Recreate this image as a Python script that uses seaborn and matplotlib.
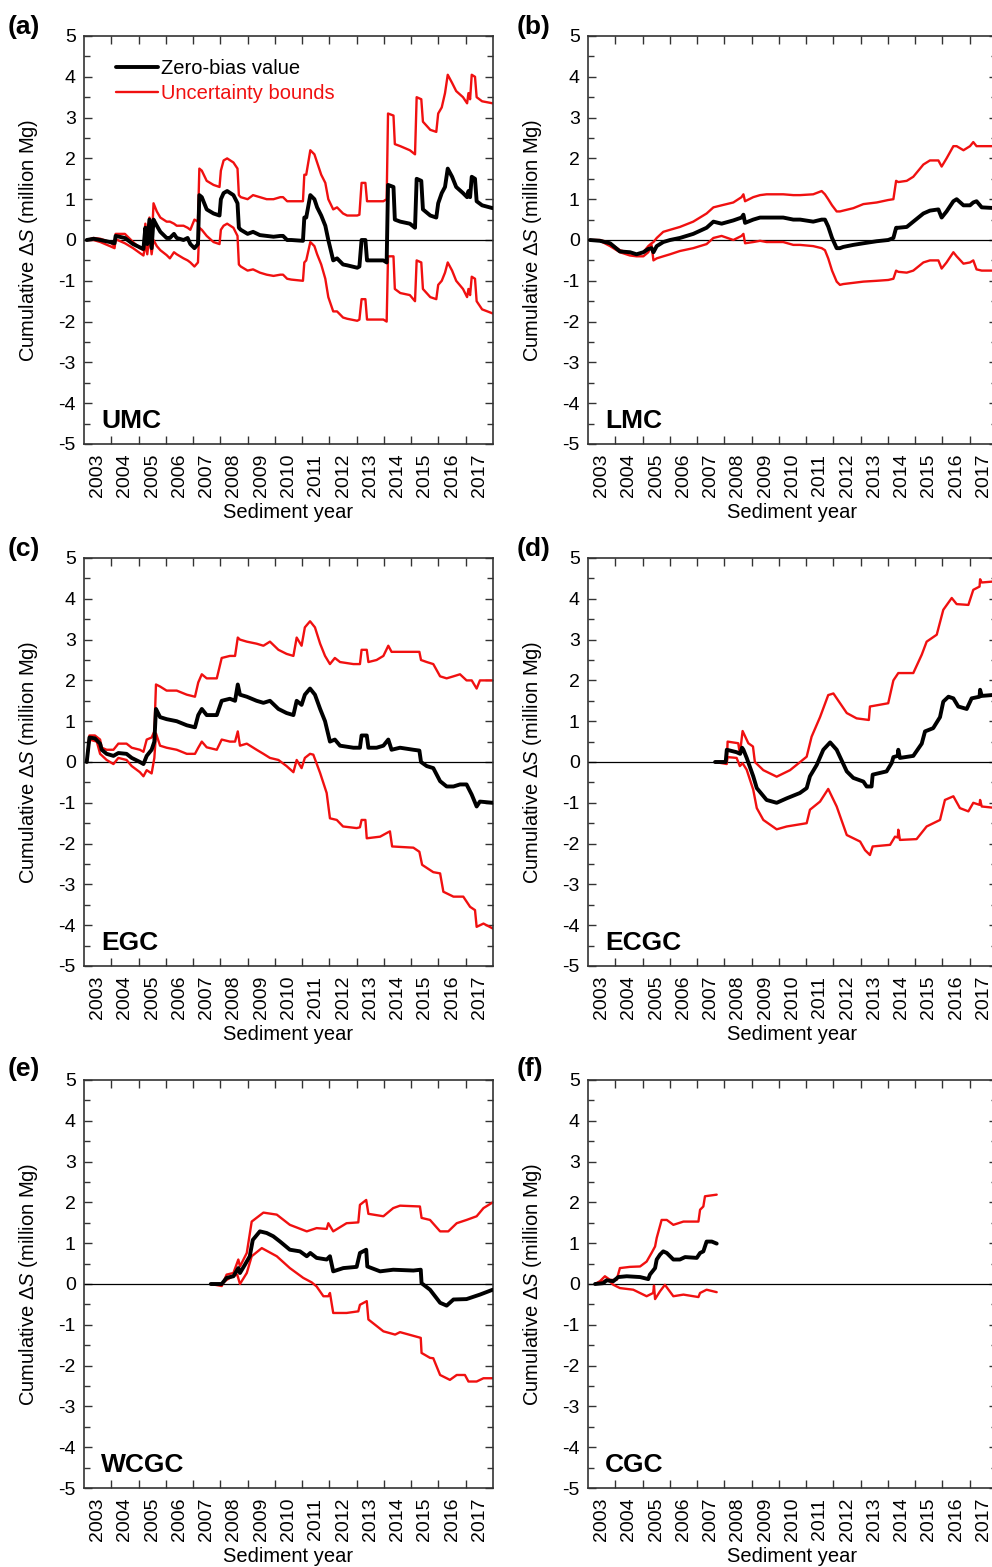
import matplotlib
matplotlib.use("Agg")
import matplotlib.pyplot as plt
from matplotlib.lines import Line2D
from matplotlib.ticker import FixedLocator, MultipleLocator
import seaborn as sns

# ---------------------------------------------------------------- data
YEARS = list(range(2003, 2018))

# UMC
UMC_YEAR = [2003.10, 2003.35, 2003.60, 2003.95, 2004.12, 2004.16, 2004.50, 2004.80, 2005.05, 2005.18,
            2005.25, 2005.32, 2005.40, 2005.48, 2005.55, 2005.67, 2005.80, 2006.03, 2006.15, 2006.30,
            2006.40, 2006.65, 2006.80, 2006.90, 2007.05, 2007.18, 2007.23, 2007.32, 2007.50, 2007.75,
            2007.97, 2008.02, 2008.12, 2008.25, 2008.48, 2008.63, 2008.68, 2008.75, 2009.00, 2009.20,
            2009.45, 2009.70, 2009.95, 2010.20, 2010.30, 2010.45, 2010.60, 2011.03, 2011.08, 2011.15,
            2011.30, 2011.45, 2011.55, 2011.70, 2011.85, 2011.96, 2012.14, 2012.28, 2012.50, 2012.65,
            2013.02, 2013.10, 2013.18, 2013.32, 2013.38, 2013.45, 2013.98, 2014.10, 2014.15, 2014.35,
            2014.40, 2014.60, 2014.95, 2015.14, 2015.20, 2015.37, 2015.43, 2015.70, 2015.92, 2015.99,
            2016.12, 2016.24, 2016.34, 2016.50, 2016.65, 2016.90, 2017.05, 2017.10, 2017.16, 2017.22,
            2017.34, 2017.40, 2017.60, 2017.99]
UMC_ZERO = [0, 0.03, 0.0, -0.05, -0.08, 0.1, 0.05, -0.1, -0.18, -0.22,
            0.3, -0.1, 0.5, -0.2, 0.5, 0.35, 0.2, 0.05, 0.05, 0.15,
            0.05, 0.0, 0.05, -0.1, -0.2, -0.1, 1.1, 1.05, 0.75, 0.65,
            0.6, 1.0, 1.15, 1.2, 1.1, 0.9, 0.3, 0.25, 0.15, 0.2,
            0.12, 0.1, 0.08, 0.1, 0.1, 0.0, 0.0, -0.02, 0.55, 0.55,
            1.1, 1.0, 0.8, 0.6, 0.35, 0.0, -0.5, -0.45, -0.6, -0.62,
            -0.68, -0.65, 0.0, 0.0, -0.5, -0.5, -0.5, -0.55, 1.35, 1.3,
            0.5, 0.45, 0.4, 0.3, 1.5, 1.45, 0.75, 0.6, 0.55, 0.9,
            1.15, 1.3, 1.75, 1.55, 1.3, 1.15, 1.05, 1.2, 1.05, 1.55,
            1.5, 0.95, 0.85, 0.78]
UMC_UPPER = [0, 0.05, 0.03, -0.05, -0.15, 0.15, 0.15, -0.05, -0.2, -0.25,
             0.4, 0.0, 0.55, -0.15, 0.9, 0.7, 0.55, 0.45, 0.45, 0.4,
             0.35, 0.35, 0.3, 0.25, 0.5, 0.45, 1.75, 1.7, 1.45, 1.35,
             1.3, 1.7, 1.95, 2.0, 1.9, 1.75, 1.1, 1.05, 1.0, 1.1,
             1.05, 1.0, 1.0, 1.05, 1.05, 0.95, 0.95, 0.95, 1.6, 1.6,
             2.2, 2.1, 1.9, 1.6, 1.4, 1.0, 0.75, 0.8, 0.65, 0.6,
             0.6, 0.62, 1.4, 1.4, 0.95, 0.95, 0.95, 1.0, 3.1, 3.05,
             2.35, 2.3, 2.2, 2.1, 3.5, 3.45, 2.9, 2.7, 2.65, 3.1,
             3.25, 3.6, 4.05, 3.85, 3.65, 3.5, 3.35, 3.6, 3.45, 4.05,
             4.0, 3.5, 3.4, 3.35]
UMC_LOWER = [0, 0.0, -0.05, -0.15, -0.2, 0.02, -0.08, -0.2, -0.32, -0.38,
             -0.1, -0.35, 0.1, -0.35, 0.0, -0.15, -0.25, -0.37, -0.45, -0.3,
             -0.35, -0.45, -0.5, -0.55, -0.65, -0.55, 0.3, 0.25, 0.1, -0.05,
             -0.1, 0.25, 0.35, 0.4, 0.3, 0.1, -0.6, -0.65, -0.75, -0.72,
             -0.8, -0.85, -0.88, -0.85, -0.85, -0.95, -0.97, -1.0, -0.55, -0.5,
             -0.05, -0.15, -0.35, -0.6, -0.95, -1.4, -1.75, -1.75, -1.9, -1.93,
             -1.98, -1.95, -1.45, -1.45, -1.95, -1.95, -1.95, -2.0, -0.4, -0.4,
             -1.2, -1.3, -1.35, -1.5, -0.5, -0.55, -1.2, -1.4, -1.45, -1.1,
             -1.0, -0.8, -0.55, -0.75, -1.0, -1.2, -1.4, -1.2, -1.35, -0.9,
             -0.95, -1.5, -1.7, -1.8]

# LMC
LMC_YEAR = [2003.07, 2003.44, 2003.81, 2004.17, 2004.54, 2004.78, 2005.03, 2005.21, 2005.33, 2005.40,
            2005.52, 2005.76, 2006.01, 2006.37, 2006.86, 2007.35, 2007.60, 2007.90, 2008.33, 2008.63,
            2008.70, 2008.76, 2009.06, 2009.31, 2009.55, 2010.16, 2010.53, 2010.78, 2011.26, 2011.57,
            2011.69, 2011.81, 2011.95, 2012.12, 2012.24, 2012.36, 2012.73, 2013.10, 2013.59, 2014.01,
            2014.20, 2014.30, 2014.38, 2014.69, 2014.93, 2015.30, 2015.54, 2015.85, 2015.97, 2016.15,
            2016.40, 2016.52, 2016.77, 2017.01, 2017.13, 2017.25, 2017.44, 2017.99]
LMC_ZERO = [0, -0.02, -0.08, -0.28, -0.3, -0.35, -0.3, -0.22, -0.2, -0.3,
            -0.15, -0.05, 0.0, 0.05, 0.15, 0.3, 0.45, 0.4, 0.48, 0.55,
            0.62, 0.42, 0.5, 0.55, 0.55, 0.55, 0.5, 0.5, 0.45, 0.5,
            0.5, 0.33, 0.05, -0.2, -0.2, -0.17, -0.12, -0.08, -0.03, 0.0,
            0.05, 0.3, 0.3, 0.32, 0.45, 0.65, 0.72, 0.75, 0.55, 0.7,
            0.95, 1.0, 0.85, 0.85, 0.92, 0.95, 0.8, 0.78]
LMC_UPPER = [0, 0.0, -0.08, -0.25, -0.32, -0.35, -0.3, -0.15, -0.08, -0.05,
             0.05, 0.2, 0.25, 0.32, 0.45, 0.65, 0.8, 0.85, 0.92, 1.05,
             1.12, 0.95, 1.05, 1.1, 1.12, 1.12, 1.1, 1.1, 1.12, 1.2,
             1.12, 1.0, 0.85, 0.7, 0.7, 0.72, 0.78, 0.88, 0.92, 0.98,
             1.0, 1.45, 1.42, 1.45, 1.55, 1.85, 1.95, 1.95, 1.8, 2.0,
             2.3, 2.3, 2.2, 2.3, 2.4, 2.3, 2.3, 2.3]
LMC_LOWER = [0, -0.02, -0.15, -0.3, -0.38, -0.4, -0.4, -0.3, -0.12, -0.5,
             -0.45, -0.4, -0.35, -0.27, -0.2, -0.1, 0.05, 0.1, 0.0, 0.1,
             0.15, -0.08, -0.05, -0.02, -0.05, -0.05, -0.12, -0.12, -0.15, -0.2,
             -0.25, -0.45, -0.75, -1.02, -1.1, -1.08, -1.05, -1.02, -1.0, -0.98,
             -0.95, -0.75, -0.78, -0.8, -0.75, -0.55, -0.5, -0.5, -0.7, -0.55,
             -0.3, -0.4, -0.58, -0.55, -0.5, -0.72, -0.75, -0.75]

# EGC
EGC_YEAR = [2003.10, 2003.20, 2003.40, 2003.59, 2003.65, 2003.83, 2004.08, 2004.26, 2004.56, 2004.75,
            2005.05, 2005.18, 2005.30, 2005.48, 2005.58, 2005.64, 2005.79, 2006.03, 2006.40, 2006.77,
            2007.07, 2007.19, 2007.32, 2007.50, 2007.87, 2008.05, 2008.35, 2008.54, 2008.64, 2008.72,
            2008.97, 2009.33, 2009.58, 2009.82, 2010.13, 2010.43, 2010.68, 2010.80, 2010.98, 2011.10,
            2011.29, 2011.47, 2011.66, 2011.84, 2012.02, 2012.20, 2012.39, 2012.88, 2013.12, 2013.18,
            2013.37, 2013.43, 2013.73, 2013.98, 2014.16, 2014.28, 2014.59, 2015.08, 2015.30, 2015.36,
            2015.57, 2015.81, 2016.06, 2016.30, 2016.55, 2016.79, 2017.03, 2017.22, 2017.40, 2017.52,
            2017.99]
EGC_ZERO = [0, 0.6, 0.58, 0.45, 0.3, 0.2, 0.15, 0.22, 0.2, 0.1,
            0.0, -0.05, 0.15, 0.3, 0.5, 1.3, 1.1, 1.05, 1.0, 0.9,
            0.85, 1.15, 1.3, 1.15, 1.15, 1.5, 1.55, 1.5, 1.9, 1.65,
            1.6, 1.5, 1.45, 1.5, 1.3, 1.2, 1.15, 1.5, 1.4, 1.65,
            1.8, 1.65, 1.3, 1.0, 0.5, 0.55, 0.4, 0.35, 0.35, 0.65,
            0.65, 0.35, 0.35, 0.4, 0.55, 0.3, 0.35, 0.3, 0.28, 0.0,
            -0.1, -0.15, -0.47, -0.6, -0.6, -0.55, -0.55, -0.8, -1.09, -0.97,
            -1.0]
EGC_UPPER = [0, 0.65, 0.65, 0.55, 0.35, 0.3, 0.3, 0.45, 0.45, 0.35,
             0.3, 0.25, 0.55, 0.6, 0.75, 1.9, 1.85, 1.75, 1.75, 1.65,
             1.6, 1.95, 2.15, 2.05, 2.05, 2.55, 2.6, 2.6, 3.05, 3.0,
             2.95, 2.9, 2.85, 2.95, 2.75, 2.65, 2.6, 3.05, 2.85, 3.3,
             3.45, 3.3, 2.9, 2.6, 2.4, 2.55, 2.45, 2.4, 2.4, 2.75,
             2.75, 2.45, 2.5, 2.6, 2.85, 2.7, 2.7, 2.7, 2.7, 2.5,
             2.45, 2.4, 2.1, 2.05, 2.1, 2.15, 2.0, 2.0, 1.8, 2.0,
             2.0]
EGC_LOWER_YEAR = [2003.10, 2003.20, 2003.47, 2003.59, 2003.83, 2004.08, 2004.26, 2004.56, 2004.75, 2005.05,
                  2005.18, 2005.30, 2005.48, 2005.58, 2005.64, 2005.79, 2006.03, 2006.40, 2006.77, 2007.07,
                  2007.19, 2007.32, 2007.50, 2007.87, 2008.05, 2008.35, 2008.54, 2008.64, 2008.72, 2008.97,
                  2009.33, 2009.58, 2009.82, 2010.13, 2010.43, 2010.68, 2010.80, 2010.98, 2011.10, 2011.29,
                  2011.41, 2011.66, 2011.90, 2012.02, 2012.27, 2012.50, 2013.00, 2013.12, 2013.18, 2013.32,
                  2013.37, 2013.86, 2014.16, 2014.22, 2014.30, 2015.08, 2015.30, 2015.40, 2015.81, 2016.06,
                  2016.18, 2016.55, 2016.91, 2017.16, 2017.34, 2017.40, 2017.65, 2017.99]
EGC_LOWER = [0, 0.55, 0.5, 0.2, 0.05, -0.05, 0.1, 0.05, -0.1, -0.25,
             -0.35, -0.2, -0.28, 0.1, 0.7, 0.4, 0.35, 0.3, 0.2, 0.2,
             0.35, 0.5, 0.36, 0.3, 0.55, 0.5, 0.5, 0.75, 0.4, 0.45,
             0.3, 0.2, 0.1, 0.05, -0.1, -0.25, 0.05, -0.15, 0.1, 0.2,
             0.18, -0.27, -0.76, -1.38, -1.42, -1.58, -1.62, -1.6, -1.42, -1.42,
             -1.87, -1.83, -1.72, -1.7, -2.07, -2.1, -2.2, -2.52, -2.7, -2.73,
             -3.18, -3.3, -3.3, -3.55, -3.63, -4.04, -3.96, -4.08]

# ECGC
ECGC_ZERO_YEAR = [2007.66, 2008.05, 2008.09, 2008.45, 2008.58, 2008.65, 2008.70, 2008.82, 2009.06, 2009.19,
                  2009.55, 2009.92, 2010.29, 2010.77, 2011.02, 2011.14, 2011.39, 2011.63, 2011.88, 2012.12,
                  2012.49, 2012.73, 2013.10, 2013.22, 2013.40, 2013.44, 2013.95, 2014.14, 2014.20, 2014.36,
                  2014.38, 2014.44, 2014.93, 2015.24, 2015.36, 2015.66, 2015.91, 2016.03, 2016.22, 2016.40,
                  2016.58, 2016.89, 2017.07, 2017.36, 2017.38, 2017.44, 2017.99]
ECGC_ZERO = [0, 0.0, 0.3, 0.24, 0.2, 0.35, 0.3, 0.1, -0.35, -0.64,
             -0.93, -1.0, -0.89, -0.76, -0.64, -0.35, -0.07, 0.3, 0.48, 0.3,
             -0.23, -0.39, -0.48, -0.6, -0.6, -0.31, -0.23, -0.02, 0.12, 0.15,
             0.3, 0.1, 0.15, 0.45, 0.75, 0.83, 1.1, 1.48, 1.6, 1.56,
             1.36, 1.3, 1.56, 1.6, 1.77, 1.62, 1.65]
ECGC_UPPER_YEAR = [2007.66, 2008.09, 2008.12, 2008.51, 2008.57, 2008.67, 2008.88, 2009.05, 2009.12, 2009.43,
                   2009.92, 2010.41, 2011.02, 2011.20, 2011.51, 2011.81, 2012.00, 2012.49, 2012.85, 2013.30,
                   2013.34, 2014.01, 2014.20, 2014.38, 2014.93, 2015.24, 2015.42, 2015.79, 2016.03, 2016.34,
                   2016.52, 2016.95, 2017.13, 2017.36, 2017.38, 2017.44, 2017.99]
ECGC_UPPER = [0, -0.05, 0.5, 0.46, 0.2, 0.76, 0.46, 0.38, 0.0, -0.2,
              -0.36, -0.2, 0.13, 0.62, 1.1, 1.64, 1.68, 1.2, 1.07, 1.03,
              1.36, 1.44, 2.0, 2.18, 2.18, 2.63, 2.95, 3.12, 3.73, 4.02,
              3.87, 3.85, 4.22, 4.3, 4.48, 4.4, 4.43]
ECGC_LOWER_YEAR = [2007.66, 2008.09, 2008.12, 2008.45, 2008.57, 2008.67, 2008.82, 2009.06, 2009.19, 2009.43,
                   2009.92, 2010.29, 2011.02, 2011.14, 2011.51, 2011.81, 2012.12, 2012.49, 2012.98, 2013.16,
                   2013.34, 2013.44, 2014.08, 2014.26, 2014.36, 2014.38, 2014.44, 2015.05, 2015.42, 2015.91,
                   2016.09, 2016.40, 2016.64, 2016.95, 2017.13, 2017.36, 2017.38, 2017.44, 2017.99]
ECGC_LOWER = [0, 0.0, 0.12, 0.1, -0.1, -0.03, -0.19, -0.68, -1.13, -1.42,
              -1.65, -1.58, -1.5, -1.17, -0.97, -0.66, -1.09, -1.79, -1.95, -2.16,
              -2.28, -2.07, -2.03, -1.83, -1.85, -1.66, -1.91, -1.89, -1.58, -1.42,
              -0.93, -0.84, -1.13, -1.21, -1.0, -1.05, -0.93, -1.09, -1.13]

# WCGC
WCGC_ZERO_YEAR = [2007.65, 2008.05, 2008.23, 2008.48, 2008.66, 2008.72, 2008.90, 2009.08, 2009.19, 2009.45,
                  2009.70, 2009.94, 2010.19, 2010.55, 2010.92, 2011.17, 2011.30, 2011.53, 2011.90, 2012.02,
                  2012.14, 2012.51, 2013.00, 2013.12, 2013.35, 2013.39, 2013.86, 2014.34, 2015.08, 2015.35,
                  2015.38, 2015.69, 2016.06, 2016.30, 2016.55, 2017.03, 2017.52, 2017.99]
WCGC_ZERO = [0, 0.0, 0.15, 0.19, 0.39, 0.27, 0.47, 0.68, 1.08, 1.29,
             1.25, 1.17, 1.04, 0.84, 0.8, 0.68, 0.76, 0.64, 0.6, 0.68,
             0.31, 0.39, 0.42, 0.76, 0.84, 0.43, 0.31, 0.35, 0.33, 0.35,
             0.02, -0.14, -0.46, -0.53, -0.38, -0.37, -0.26, -0.14]
WCGC_UPPER_YEAR = [2007.65, 2008.05, 2008.23, 2008.48, 2008.66, 2008.72, 2008.97, 2009.15, 2009.58, 2010.07,
                   2010.55, 2011.17, 2011.53, 2011.90, 2011.96, 2012.14, 2012.63, 2013.06, 2013.12, 2013.35,
                   2013.43, 2013.98, 2014.34, 2014.59, 2015.32, 2015.38, 2015.69, 2016.06, 2016.36, 2016.67,
                   2017.03, 2017.40, 2017.65, 2017.99]
WCGC_UPPER = [0, -0.05, 0.23, 0.27, 0.6, 0.43, 0.76, 1.53, 1.75, 1.7,
              1.45, 1.29, 1.37, 1.35, 1.49, 1.29, 1.49, 1.51, 1.94, 2.06,
              1.72, 1.66, 1.86, 1.92, 1.9, 1.62, 1.57, 1.29, 1.29, 1.49,
              1.57, 1.66, 1.86, 2.0]
WCGC_LOWER_YEAR = [2007.65, 2008.05, 2008.23, 2008.48, 2008.62, 2008.72, 2008.97, 2009.15, 2009.52, 2010.07,
                   2010.55, 2011.04, 2011.35, 2011.53, 2011.78, 2011.96, 2012.02, 2012.14, 2012.63, 2013.06,
                   2013.12, 2013.37, 2013.43, 2013.98, 2014.41, 2014.59, 2015.35, 2015.38, 2015.69, 2015.81,
                   2016.06, 2016.42, 2016.67, 2016.97, 2017.10, 2017.40, 2017.65, 2017.99]
WCGC_LOWER = [0, 0.0, 0.1, 0.2, 0.23, 0.0, 0.27, 0.68, 0.88, 0.68,
              0.39, 0.15, 0.04, -0.06, -0.3, -0.3, -0.22, -0.71, -0.71, -0.67,
              -0.51, -0.42, -0.87, -1.16, -1.24, -1.18, -1.32, -1.69, -1.81, -1.82,
              -2.23, -2.35, -2.23, -2.23, -2.39, -2.39, -2.31, -2.31]

# CGC
CGC_ZERO_YEAR = [2003.26, 2003.56, 2003.68, 2003.93, 2004.11, 2004.42, 2004.91, 2005.21, 2005.27, 2005.46,
                 2005.52, 2005.64, 2005.76, 2005.89, 2006.13, 2006.37, 2006.56, 2006.99, 2007.11, 2007.23,
                 2007.35, 2007.54, 2007.72]
CGC_ZERO = [0, 0.02, 0.09, 0.07, 0.17, 0.19, 0.17, 0.12, 0.23, 0.39,
            0.6, 0.72, 0.8, 0.76, 0.6, 0.6, 0.66, 0.64, 0.76, 0.8,
            1.04, 1.04, 0.99]
CGC_UPPER_YEAR = [2003.26, 2003.44, 2003.62, 2003.81, 2004.05, 2004.17, 2004.54, 2004.91, 2005.15, 2005.33,
                  2005.46, 2005.52, 2005.70, 2005.89, 2006.13, 2006.50, 2007.05, 2007.11, 2007.23, 2007.29,
                  2007.72]
CGC_UPPER = [0, 0.07, 0.19, 0.1, 0.1, 0.39, 0.42, 0.43, 0.55, 0.76,
             0.92, 1.13, 1.57, 1.57, 1.45, 1.53, 1.53, 1.82, 1.9, 2.15,
             2.19]
CGC_LOWER_YEAR = [2003.26, 2003.56, 2003.74, 2003.93, 2004.17, 2004.66, 2005.15, 2005.39, 2005.42, 2005.46,
                  2005.64, 2005.82, 2006.13, 2006.50, 2007.05, 2007.11, 2007.35, 2007.72]
CGC_LOWER = [0, 0.07, 0.1, -0.02, -0.1, -0.14, -0.3, -0.22, -0.04, -0.37,
             -0.18, -0.02, -0.3, -0.26, -0.32, -0.22, -0.14, -0.2]

# ---------------------------------------------------------------- style
sns.set_style("ticks")
plt.rcParams["font.family"] = ["Liberation Sans", "DejaVu Sans"]
plt.rcParams["mathtext.fontset"] = "custom"
plt.rcParams["mathtext.it"] = "Liberation Sans:italic"
plt.rcParams["mathtext.rm"] = "Liberation Sans"
plt.rcParams["axes.unicode_minus"] = False
for key in ("text.color", "axes.labelcolor", "xtick.color", "ytick.color"):
    plt.rcParams[key] = "black"

RED = "#f01010"
SPINE = "#333333"
ZERO_LW = 2.8
BOUND_LW = 1.7

W, H = 992, 1567
fig = plt.figure(figsize=(W / 100, H / 100), dpi=100)

AX_W = 409
COL_LEFT = [84, 588]
ROW_TOP = [36, 558, 1080]
AX_H = 408


def make_axes(col, row):
    left = COL_LEFT[col] / W
    bottom = 1 - (ROW_TOP[row] + AX_H) / H
    return fig.add_axes([left, bottom, AX_W / W, AX_H / H])


def draw_panel(ax, zero, upper, lower, station):
    ax.axhline(0, color="black", lw=0.9, zorder=1)
    for xs, ys in (upper, lower):
        sns.lineplot(x=xs, y=ys, ax=ax, color=RED, linewidth=BOUND_LW,
                     estimator=None, sort=False, zorder=2)
    sns.lineplot(x=zero[0], y=zero[1], ax=ax, color="black", linewidth=ZERO_LW,
                 estimator=None, sort=False, zorder=3)

    ax.set_xlim(2003, 2018)
    ax.set_ylim(-5, 5)
    ax.set_xticks([y + 0.5 for y in YEARS], [str(y) for y in YEARS], rotation=90)
    ax.xaxis.set_minor_locator(FixedLocator(list(range(2004, 2018))))
    ax.tick_params(axis="x", which="major", length=0, pad=7, labelsize=14)
    ax.tick_params(axis="x", which="minor", direction="in", length=6, width=1,
                   top=True, bottom=True, color=SPINE)
    ax.yaxis.set_major_locator(MultipleLocator(1))
    ax.yaxis.set_minor_locator(MultipleLocator(0.5))
    ax.tick_params(axis="y", which="both", direction="in", left=True, right=True,
                   width=1, color=SPINE)
    ax.tick_params(axis="y", which="major", length=6, labelsize=14, pad=6)
    ax.tick_params(axis="y", which="minor", length=4)
    for sp in ax.spines.values():
        sp.set_visible(True)
        sp.set_color(SPINE)
        sp.set_linewidth(1.2)

    ax.set_xlabel("Sediment year", fontsize=14.5)
    ax.xaxis.set_label_coords(0.5, -0.145)
    ax.set_ylabel("Cumulative Δ$\\mathit{S}$ (million Mg)", fontsize=14.5)
    ax.yaxis.set_label_coords(-0.108, 0.5)
    ax.text(0.042, 0.039, station, transform=ax.transAxes, fontsize=19,
            fontweight="bold", ha="left", va="baseline", color="black")


panels = [
    (0, 0, "(a)", "UMC", (UMC_YEAR, UMC_ZERO), (UMC_YEAR, UMC_UPPER), (UMC_YEAR, UMC_LOWER)),
    (1, 0, "(b)", "LMC", (LMC_YEAR, LMC_ZERO), (LMC_YEAR, LMC_UPPER), (LMC_YEAR, LMC_LOWER)),
    (0, 1, "(c)", "EGC", (EGC_YEAR, EGC_ZERO), (EGC_YEAR, EGC_UPPER), (EGC_LOWER_YEAR, EGC_LOWER)),
    (1, 1, "(d)", "ECGC", (ECGC_ZERO_YEAR, ECGC_ZERO), (ECGC_UPPER_YEAR, ECGC_UPPER),
     (ECGC_LOWER_YEAR, ECGC_LOWER)),
    (0, 2, "(e)", "WCGC", (WCGC_ZERO_YEAR, WCGC_ZERO), (WCGC_UPPER_YEAR, WCGC_UPPER),
     (WCGC_LOWER_YEAR, WCGC_LOWER)),
    (1, 2, "(f)", "CGC", (CGC_ZERO_YEAR, CGC_ZERO), (CGC_UPPER_YEAR, CGC_UPPER),
     (CGC_LOWER_YEAR, CGC_LOWER)),
]

LETTER_X = [8, 517]
LETTER_Y = [27, 549, 1069]

for col, row, letter, station, zero, upper, lower in panels:
    ax = make_axes(col, row)
    draw_panel(ax, zero, upper, lower, station)
    fig.text(LETTER_X[col] / W, 1 - LETTER_Y[row] / H, letter, fontsize=19,
             fontweight="bold", ha="left", va="center", color="black")
    if letter == "(a)":
        handles = [Line2D([], [], color="black", lw=ZERO_LW),
                   Line2D([], [], color=RED, lw=BOUND_LW)]
        leg = ax.legend(handles, ["Zero-bias value", "Uncertainty bounds"],
                        loc="upper left", bbox_to_anchor=(0.078, 0.944),
                        frameon=False, fontsize=14.5, handlelength=2.1,
                        handletextpad=0.12, borderpad=0, borderaxespad=0,
                        labelspacing=0.3)
        leg.get_texts()[0].set_color("black")
        leg.get_texts()[1].set_color(RED)

fig.savefig("out.png", dpi=100)
